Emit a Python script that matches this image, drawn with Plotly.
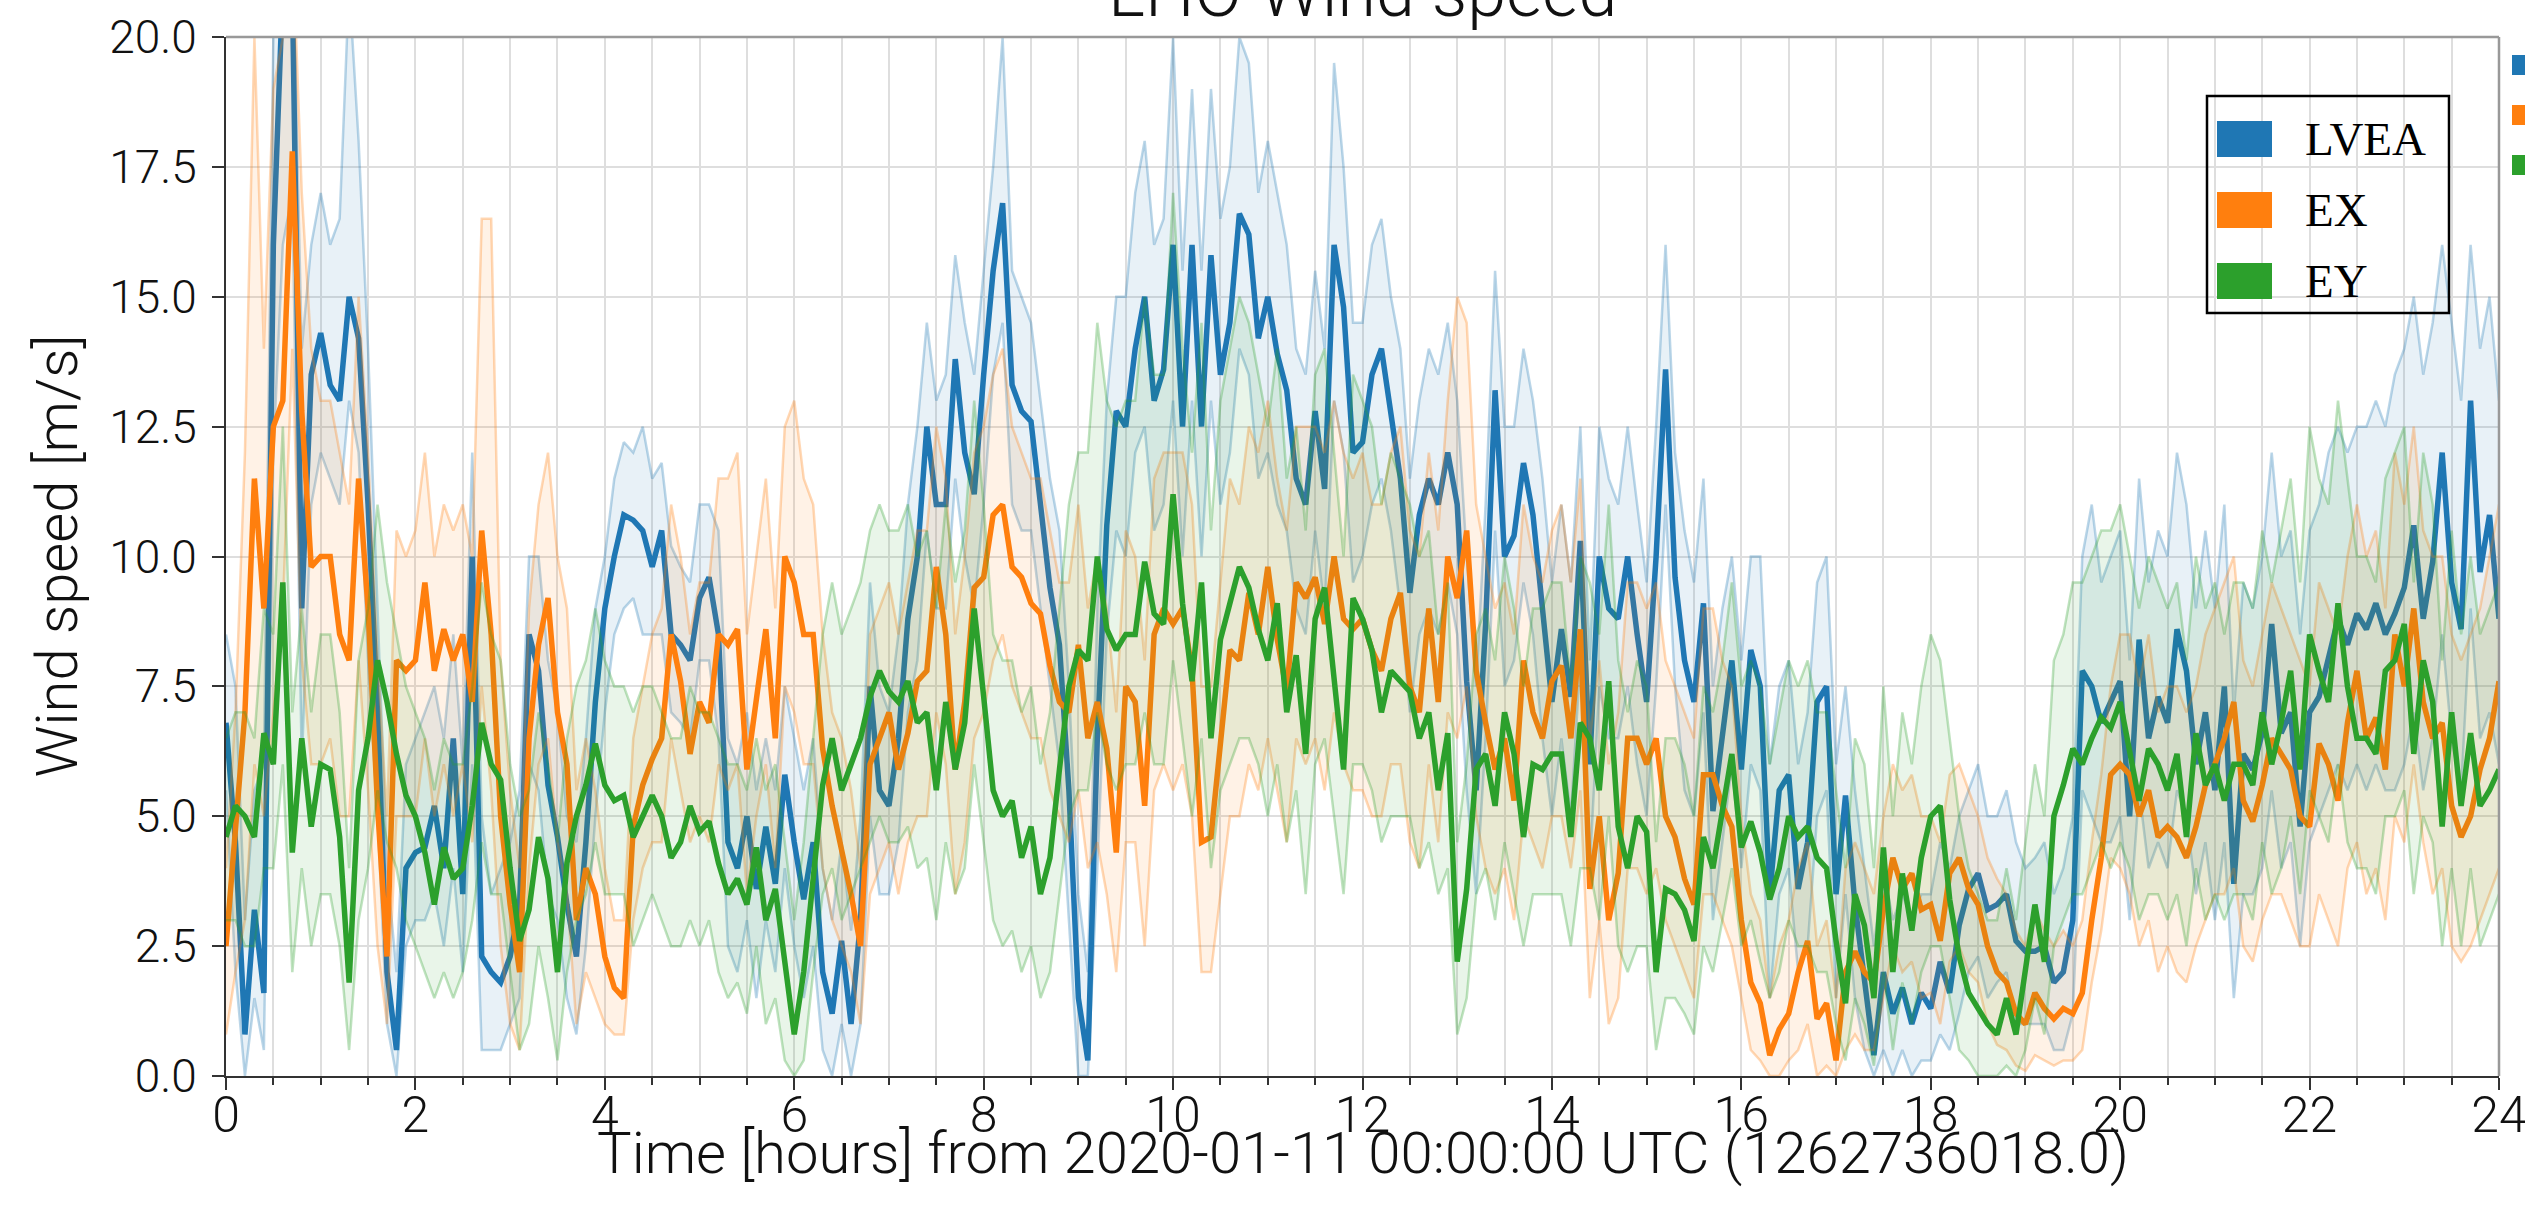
import numpy as np
import plotly.graph_objects as go

# ---------------- data (0.1 h sampling) ----------------
hours = np.round(np.arange(0, 24.0001, 0.1), 1)

lvea_mean = [
    6.8, 4.5, 0.8, 3.2, 1.6, 16.0, 21.0, 21.0, 9.0, 13.5,
    14.3, 13.3, 13.0, 15.0, 14.2, 11.0, 7.0, 2.0, 0.5, 4.0,
    4.3, 4.4, 5.2, 4.0, 6.5, 3.5, 10.0, 2.3, 2.0, 1.8,
    2.3, 3.3, 8.5, 7.8, 5.6, 4.6, 3.3, 2.3, 4.5, 7.2,
    9.0, 10.0, 10.8, 10.7, 10.5, 9.8, 10.5, 8.5, 8.3, 8.0,
    9.2, 9.6, 8.5, 4.5, 4.0, 5.0, 3.6, 4.8, 3.7, 5.8,
    4.5, 3.4, 4.5, 2.0, 1.2, 2.6, 1.0, 3.0, 7.5, 5.5,
    5.2, 6.5, 8.8, 10.0, 12.5, 11.0, 11.0, 13.8, 12.0, 11.2,
    13.5, 15.5, 16.8, 13.3, 12.8, 12.6, 11.0, 9.4, 8.3, 5.5,
    1.5, 0.3, 6.5, 10.6, 12.8, 12.5, 14.0, 15.0, 13.0, 13.6,
    16.0, 12.5, 16.0, 12.5, 15.8, 13.5, 14.5, 16.6, 16.2, 14.2,
    15.0, 13.9, 13.2, 11.5, 11.0, 12.8, 11.3, 16.0, 14.8, 12.0,
    12.2, 13.5, 14.0, 12.8, 11.5, 9.3, 10.8, 11.5, 11.0, 12.0,
    11.0, 7.6, 5.5, 8.7, 13.2, 10.0, 10.4, 11.8, 10.8, 9.0,
    7.2, 8.6, 7.3, 10.3, 6.0, 10.0, 9.0, 8.8, 10.0, 8.5,
    7.2, 10.0, 13.6, 9.6, 8.0, 7.2, 9.1, 5.1, 6.6, 8.0,
    5.9, 8.2, 7.5, 3.5, 5.5, 5.8, 3.6, 4.5, 7.2, 7.5,
    3.5, 5.4, 3.3, 1.8, 0.4, 2.0, 1.2, 1.7, 1.0, 1.6,
    1.3, 2.2, 1.6, 2.9, 3.6, 3.9, 3.2, 3.3, 3.5, 2.6,
    2.4, 2.4, 2.5, 1.8, 2.0, 3.0, 7.8, 7.5, 6.8, 7.2,
    7.6, 5.0, 8.4, 6.5, 7.3, 6.8, 8.6, 7.8, 6.0, 7.0,
    5.5, 7.5, 3.7, 6.2, 5.9, 6.6, 8.7, 6.6, 7.0, 4.8,
    7.0, 7.3, 8.0, 8.8, 8.3, 8.9, 8.6, 9.1, 8.5, 8.9,
    9.4, 10.6, 8.8, 9.9, 12.0, 9.5, 8.6, 13.0, 9.7, 10.8,
    8.8,
]
lvea_max = [
    8.5, 7.5, 3.0, 5.5, 6.0, 20.0, 22.0, 22.0, 14.0, 16.0,
    17.0, 16.0, 16.5, 21.0, 18.0, 14.0, 9.0, 4.0, 2.0, 6.0,
    6.5, 7.0, 7.5, 6.5, 8.5, 6.0, 12.0, 5.0, 3.5, 4.0,
    4.5, 5.5, 10.0, 10.0, 8.0, 7.0, 5.0, 4.5, 6.5, 9.0,
    10.0, 11.5, 12.2, 12.0, 12.5, 11.5, 11.8, 10.2, 9.8, 9.5,
    11.0, 11.0, 10.5, 6.5, 6.0, 7.0, 5.5, 6.5, 5.5, 7.5,
    6.5, 5.5, 6.5, 4.0, 3.0, 4.5, 2.8, 5.0, 9.5, 7.5,
    7.0, 8.5, 11.0, 12.5, 14.5, 13.0, 13.5, 15.8, 14.5, 13.5,
    15.5, 17.5, 20.0, 15.5, 15.0, 14.5, 13.0, 11.5, 10.5, 7.5,
    3.5, 2.0, 9.0, 13.0, 15.0, 15.0, 17.0, 18.0, 16.0, 16.5,
    20.0, 15.5, 19.0, 15.5, 19.0, 16.5, 17.5, 20.0, 19.5, 17.0,
    18.0, 17.0, 16.0, 14.0, 13.5, 15.5, 14.0, 19.5, 17.5, 14.5,
    14.5, 16.0, 16.5, 15.0, 14.0, 11.5, 13.0, 14.0, 13.5, 14.5,
    13.0, 10.0, 7.5, 11.0, 15.5, 12.5, 12.5, 14.0, 13.0, 11.5,
    9.5, 11.0, 9.5, 12.5, 8.0, 12.5, 11.5, 11.0, 12.5, 11.0,
    9.5, 12.5, 16.0, 12.0, 10.5, 9.5, 11.5, 7.5, 9.0, 10.0,
    8.0, 10.0, 10.0, 6.0, 7.5, 8.0, 6.0, 7.0, 9.5, 10.0,
    6.0, 7.5, 5.5, 4.0, 2.5, 4.0, 3.0, 3.5, 3.0, 3.5,
    3.5, 4.5, 4.0, 5.0, 5.5, 6.0, 5.0, 5.0, 5.5, 4.5,
    4.0, 4.2, 4.5, 3.5, 4.0, 5.0, 10.0, 11.0, 9.5, 10.0,
    10.5, 8.0, 11.5, 9.5, 10.5, 10.0, 12.0, 11.0, 9.0, 10.5,
    9.0, 11.0, 7.0, 9.5, 9.0, 10.0, 12.0, 10.0, 10.5, 8.5,
    10.5, 11.0, 12.0, 12.5, 12.0, 12.5, 12.5, 13.0, 12.5, 13.5,
    14.0, 15.0, 13.5, 14.5, 16.0, 14.5, 13.0, 16.0, 14.0, 15.0,
    13.0,
]
lvea_min = [
    5.5, 2.0, 0.0, 1.5, 0.5, 12.0, 16.0, 17.0, 6.0, 11.0,
    12.0, 11.5, 11.0, 13.0, 12.0, 8.0, 5.0, 1.0, 0.0, 2.5,
    3.0, 3.0, 3.5, 2.5, 4.0, 2.0, 6.0, 0.5, 0.5, 0.5,
    1.0, 1.5, 6.0, 5.5, 3.5, 3.0, 1.5, 0.8, 2.5, 5.0,
    7.0, 8.5, 9.0, 9.2, 8.5, 8.5, 8.5, 7.0, 6.8, 6.5,
    8.0, 8.0, 6.5, 2.5, 2.0, 3.0, 1.5, 3.0, 2.0, 4.0,
    2.5, 1.5, 2.5, 0.5, 0.0, 1.0, 0.0, 1.0, 5.0, 3.5,
    3.5, 4.5, 7.0, 8.0, 10.5, 9.0, 9.0, 11.5, 10.0, 9.0,
    11.0, 13.5, 14.5, 11.0, 10.5, 10.5, 9.0, 7.5, 6.0, 3.0,
    0.0, 0.0, 4.0, 8.5, 10.5, 10.0, 12.0, 12.5, 10.5, 11.0,
    13.0, 10.0, 13.0, 10.0, 13.0, 11.0, 12.0, 14.0, 13.5, 11.5,
    12.0, 11.0, 10.5, 9.0, 8.5, 10.5, 9.0, 13.0, 12.0, 9.5,
    10.0, 11.0, 11.5, 10.5, 9.0, 7.0, 8.5, 9.0, 8.5, 9.5,
    8.5, 5.5, 3.5, 6.5, 10.5, 7.5, 8.0, 9.5, 8.5, 6.5,
    5.0, 6.5, 5.0, 8.0, 4.0, 7.5, 6.5, 6.5, 7.5, 6.0,
    5.0, 7.5, 11.0, 7.5, 5.5, 5.0, 7.0, 3.0, 4.5, 6.0,
    4.0, 6.0, 5.5, 1.5, 3.5, 4.0, 2.0, 2.5, 5.0, 5.5,
    1.5, 3.5, 1.5, 0.5, 0.0, 0.5, 0.0, 0.5, 0.0, 0.3,
    0.3, 0.8, 0.5, 1.2, 2.0, 2.3, 1.5, 1.8, 2.0, 1.0,
    1.0, 1.0, 1.0, 0.5, 0.5, 1.2, 5.5, 5.0, 4.5, 4.5,
    5.0, 3.0, 5.5, 4.0, 4.5, 4.0, 5.5, 5.0, 3.5, 4.5,
    3.0, 4.5, 1.5, 3.5, 3.5, 4.0, 5.5, 4.0, 4.5, 2.5,
    4.5, 5.0, 5.5, 6.0, 5.5, 6.0, 5.5, 6.0, 5.5, 5.5,
    6.0, 7.0, 5.5, 6.5, 8.5, 6.5, 5.5, 9.0, 6.5, 7.0,
    6.0,
]

ex_mean = [
    2.5, 4.6, 7.0, 11.5, 9.0, 12.5, 13.0, 17.8, 12.8, 9.8,
    10.0, 10.0, 8.5, 8.0, 11.5, 9.0, 5.2, 2.3, 8.0, 7.8,
    8.0, 9.5, 7.8, 8.6, 8.0, 8.5, 7.2, 10.5, 8.5, 5.0,
    3.3, 2.0, 6.5, 8.3, 9.2, 7.0, 6.0, 3.0, 4.0, 3.5,
    2.3, 1.7, 1.5, 4.8, 5.6, 6.1, 6.5, 8.5, 7.6, 6.2,
    7.2, 6.8, 8.5, 8.3, 8.6, 5.9, 7.2, 8.6, 6.5, 10.0,
    9.5, 8.5, 8.5, 6.3, 5.2, 4.4, 3.5, 2.5, 6.0, 6.5,
    7.0, 5.9, 6.6, 7.6, 7.8, 9.8, 8.5, 5.9, 7.2, 9.4,
    9.6, 10.8, 11.0, 9.8, 9.6, 9.1, 8.9, 7.9, 7.2, 7.0,
    8.3, 6.5, 7.2, 6.3, 4.3, 7.5, 7.2, 5.2, 8.5, 9.0,
    8.7, 9.0, 7.8, 4.5, 4.6, 6.4, 8.2, 8.0, 9.3, 8.5,
    9.8, 8.4, 7.4, 9.5, 9.2, 9.6, 8.7, 10.0, 8.8, 8.6,
    8.8, 8.2, 7.8, 8.8, 9.3, 7.5, 7.0, 9.0, 7.2, 10.0,
    9.2, 10.5, 7.8, 6.8, 5.9, 6.5, 5.3, 8.0, 7.0, 6.5,
    7.6, 7.9, 6.5, 8.6, 3.6, 5.0, 3.0, 3.9, 6.5, 6.5,
    6.0, 6.5, 5.0, 4.6, 3.8, 3.3, 5.8, 5.8, 5.2, 4.8,
    3.0, 1.8, 1.4, 0.4, 0.9, 1.2, 2.0, 2.6, 1.1, 1.4,
    0.3, 2.0, 2.4, 2.0, 1.8, 3.2, 4.2, 3.6, 3.9, 3.2,
    3.3, 2.6, 3.9, 4.2, 3.6, 3.3, 2.5, 2.0, 1.8, 1.2,
    1.0, 1.6, 1.3, 1.1, 1.3, 1.2, 1.6, 3.0, 4.2, 5.8,
    6.0, 5.8, 5.0, 5.5, 4.6, 4.8, 4.6, 4.2, 4.8, 5.6,
    6.0, 6.5, 7.2, 5.3, 4.9, 5.6, 6.5, 6.2, 5.9, 5.0,
    4.8, 6.4, 6.0, 5.3, 6.8, 7.8, 6.5, 6.9, 5.9, 8.5,
    7.5, 9.0, 7.2, 6.5, 6.8, 5.2, 4.6, 5.0, 5.9, 6.5,
    7.6,
]
ex_max = [
    4.0, 7.0, 12.0, 20.0, 14.0, 19.0, 20.0, 22.0, 17.0, 14.0,
    13.0, 13.0, 12.0, 11.0, 15.0, 12.0, 8.0, 5.0, 10.5, 10.0,
    10.5, 12.0, 10.0, 11.0, 10.5, 11.0, 10.0, 16.5, 16.5, 8.0,
    5.5, 4.0, 9.0, 11.0, 12.0, 10.0, 9.0, 5.5, 6.5, 5.5,
    4.0, 3.0, 3.0, 6.5, 7.5, 8.5, 9.0, 11.0, 10.0, 8.5,
    9.5, 9.5, 11.5, 11.5, 12.0, 8.5, 10.0, 11.5, 9.0, 12.5,
    13.0, 11.5, 11.0, 8.5, 7.0, 6.5, 5.5, 4.0, 8.5, 9.0,
    9.5, 8.5, 9.5, 10.5, 10.5, 12.5, 11.5, 8.5, 10.0, 12.0,
    12.5, 13.5, 14.0, 12.5, 12.0, 11.5, 11.5, 10.5, 9.5, 9.5,
    11.0, 9.0, 10.0, 9.0, 7.0, 10.5, 10.0, 8.0, 11.5, 12.0,
    12.0, 12.0, 11.0, 7.5, 7.5, 9.5, 11.5, 11.0, 12.5, 12.0,
    13.0, 11.5, 10.5, 12.5, 12.5, 12.5, 12.0, 13.0, 12.0, 11.5,
    12.0, 11.0, 11.0, 12.0, 12.5, 10.5, 10.0, 12.0, 10.5, 13.0,
    15.0, 14.5, 11.0, 10.0, 9.0, 9.5, 8.5, 11.0, 10.0, 9.5,
    10.5, 11.0, 9.5, 11.5, 6.5, 8.0, 6.0, 7.0, 9.5, 9.5,
    9.0, 9.5, 8.0, 7.5, 7.0, 6.5, 9.0, 9.0, 8.0, 7.5,
    5.0, 3.5, 3.0, 1.5, 2.5, 3.0, 4.0, 4.5, 2.5, 3.0,
    1.5, 4.0, 4.5, 4.0, 3.5, 5.0, 6.0, 5.5, 5.8, 5.0,
    5.0, 4.5, 5.8, 6.0, 5.5, 5.0, 4.2, 3.8, 3.5, 2.8,
    2.5, 3.2, 2.8, 2.5, 2.8, 2.5, 3.0, 4.5, 5.8, 7.5,
    8.5, 8.5, 7.5, 8.5, 7.0, 7.5, 7.5, 7.0, 7.5, 8.5,
    9.0, 9.5, 10.0, 8.0, 7.5, 8.5, 9.5, 9.0, 8.5, 8.0,
    7.5, 9.5, 9.0, 8.5, 10.0, 11.0, 10.0, 10.5, 9.0, 12.0,
    11.0, 12.5, 10.5, 10.0, 10.0, 8.5, 8.0, 8.5, 9.0, 10.0,
    11.0,
]
ex_min = [
    0.8, 2.0, 3.0, 6.0, 5.0, 7.0, 9.0, 14.0, 8.0, 6.0,
    6.0, 6.5, 5.0, 5.0, 8.0, 5.5, 2.5, 1.0, 5.0, 5.0,
    5.0, 6.5, 5.0, 6.0, 5.0, 6.0, 4.5, 7.5, 5.5, 2.5,
    1.0, 0.5, 4.0, 6.0, 6.5, 4.5, 3.5, 1.0, 2.0, 1.5,
    1.0, 0.8, 0.8, 3.0, 4.0, 4.5, 4.5, 6.5, 5.5, 4.5,
    5.0, 4.5, 6.0, 5.5, 6.0, 3.5, 5.0, 6.0, 4.0, 7.5,
    7.0, 6.0, 6.0, 4.0, 3.0, 2.5, 2.0, 1.0, 3.5, 4.0,
    4.5, 3.5, 4.5, 5.0, 5.0, 7.0, 6.0, 3.5, 4.5, 6.5,
    7.0, 8.0, 8.5, 7.5, 7.0, 6.5, 6.5, 5.5, 5.0, 4.5,
    5.5, 4.0, 4.5, 3.5, 2.0, 4.5, 4.5, 2.5, 5.5, 6.0,
    5.5, 6.0, 5.0, 2.0, 2.0, 3.5, 5.0, 5.0, 6.0, 5.5,
    6.5, 5.5, 4.5, 6.5, 6.0, 6.5, 5.5, 7.0, 6.0, 5.5,
    5.5, 5.0, 5.0, 6.0, 6.0, 4.5, 4.0, 6.0, 4.5, 7.0,
    6.5, 7.5, 5.0, 4.0, 3.5, 4.0, 3.0, 5.0, 4.5, 4.0,
    5.0, 5.0, 4.0, 5.5, 1.5, 3.0, 1.0, 1.5, 4.0, 4.0,
    3.5, 4.0, 3.0, 2.5, 2.0, 1.5, 3.5, 3.5, 3.0, 2.5,
    1.5, 0.5, 0.3, 0.0, 0.0, 0.3, 0.5, 1.0, 0.0, 0.2,
    0.0, 0.5, 0.8, 0.5, 0.5, 1.5, 2.5, 2.0, 2.2, 1.5,
    1.6, 1.0, 2.2, 2.5, 2.0, 1.8, 1.0, 0.6, 0.5, 0.2,
    0.1, 0.4, 0.3, 0.2, 0.3, 0.3, 0.5, 1.8, 2.8, 4.2,
    4.0, 3.5, 2.5, 3.0, 2.0, 2.5, 2.0, 1.8, 2.5, 3.0,
    3.5, 3.5, 4.0, 2.5, 2.2, 3.0, 3.5, 3.5, 3.0, 2.5,
    2.5, 3.5, 3.0, 2.5, 4.0, 4.5, 3.5, 4.0, 3.0, 5.0,
    4.5, 6.0, 4.5, 3.5, 4.0, 2.5, 2.2, 2.5, 3.0, 3.5,
    4.0,
]

ey_mean = [
    4.6, 5.2, 5.0, 4.6, 6.6, 6.0, 9.5, 4.3, 6.5, 4.8,
    6.0, 5.9, 4.6, 1.8, 5.5, 6.5, 8.0, 7.2, 6.2, 5.4,
    5.0, 4.3, 3.3, 4.4, 3.8, 4.0, 5.2, 6.8, 6.0, 5.7,
    4.0, 2.6, 3.2, 4.6, 3.8, 2.0, 4.1, 5.0, 5.6, 6.4,
    5.6, 5.3, 5.4, 4.6, 5.0, 5.4, 5.0, 4.2, 4.5, 5.2,
    4.7, 4.9, 4.1, 3.5, 3.8, 3.3, 4.4, 3.0, 3.6, 2.1,
    0.8, 2.0, 3.9, 5.6, 6.5, 5.5, 6.0, 6.5, 7.3, 7.8,
    7.4, 7.2, 7.6, 6.8, 7.0, 5.5, 7.2, 5.9, 6.8, 9.0,
    7.3, 5.5, 5.0, 5.3, 4.2, 4.8, 3.5, 4.2, 5.9, 7.5,
    8.2, 8.0, 10.0, 8.6, 8.2, 8.5, 8.5, 9.9, 8.9, 8.7,
    11.2, 9.1, 7.6, 9.5, 6.5, 8.4, 9.1, 9.8, 9.4, 8.6,
    8.0, 9.1, 7.0, 8.1, 6.2, 8.8, 9.4, 7.6, 5.9, 9.2,
    8.8, 8.2, 7.0, 7.8, 7.6, 7.4, 6.5, 7.0, 5.5, 6.6,
    2.2, 3.6, 5.9, 6.2, 5.2, 7.0, 6.2, 4.6, 6.0, 5.9,
    6.2, 6.2, 4.6, 6.8, 6.5, 5.5, 7.6, 4.8, 4.0, 5.0,
    4.7, 2.0, 3.6, 3.5, 3.2, 2.6, 4.6, 4.0, 5.1, 6.2,
    4.4, 4.9, 4.3, 3.4, 4.0, 5.0, 4.6, 4.8, 4.2, 4.0,
    2.6, 1.4, 3.5, 2.9, 1.5, 4.4, 2.0, 3.9, 2.8, 4.2,
    5.0, 5.2, 3.4, 2.3, 1.6, 1.3, 1.0, 0.8, 1.5, 0.8,
    2.0, 3.3, 2.2, 5.0, 5.6, 6.3, 6.0, 6.5, 6.9, 6.7,
    7.2, 6.3, 5.3, 6.3, 6.0, 5.5, 6.2, 4.6, 6.6, 5.6,
    6.0, 5.3, 6.0, 6.0, 5.6, 7.0, 6.0, 6.8, 7.8, 5.9,
    8.5, 7.8, 7.2, 9.1, 7.5, 6.5, 6.5, 6.2, 7.8, 8.0,
    8.7, 6.2, 8.0, 7.2, 4.8, 7.0, 5.2, 6.6, 5.2, 5.5,
    5.9,
]
ey_max = [
    6.5, 7.0, 7.0, 6.5, 9.0, 8.5, 12.5, 7.0, 9.0, 7.0,
    8.5, 8.5, 7.0, 4.0, 8.0, 9.0, 11.0, 9.5, 8.5, 7.5,
    7.0, 6.5, 5.5, 6.5, 6.0, 6.0, 7.5, 9.5, 8.5, 8.0,
    6.0, 5.0, 5.5, 7.0, 6.0, 4.5, 6.5, 7.5, 8.0, 9.0,
    8.0, 7.5, 7.5, 7.0, 7.5, 7.5, 7.0, 6.5, 6.5, 7.5,
    7.0, 7.0, 6.5, 6.0, 6.0, 5.5, 6.5, 5.5, 6.0, 4.5,
    3.0, 4.5, 6.5, 8.5, 9.5, 8.5, 9.0, 9.5, 10.5, 11.0,
    10.5, 10.5, 11.0, 10.0, 10.5, 9.0, 11.0, 9.5, 10.5, 13.0,
    11.0, 8.5, 8.0, 8.0, 7.0, 7.5, 6.0, 7.0, 9.0, 11.0,
    12.0, 12.0, 14.5, 13.0, 12.5, 13.0, 13.0, 15.0, 13.5, 13.5,
    17.0, 14.0, 12.0, 14.5, 10.5, 13.0, 14.0, 15.0, 14.5, 13.5,
    12.5, 14.0, 11.5, 12.5, 10.5, 13.5, 14.0, 12.0, 10.0, 13.5,
    13.0, 12.5, 11.0, 12.0, 11.5, 11.0, 10.0, 10.5, 8.5, 9.5,
    4.5, 6.0, 8.5, 9.0, 8.0, 10.0, 9.0, 7.5, 9.0, 9.0,
    9.5, 9.5, 7.5, 10.0, 9.5, 8.5, 11.0, 8.0, 7.0, 8.0,
    7.5, 4.5, 6.5, 6.5, 6.0, 5.0, 7.5, 7.0, 8.0, 9.5,
    7.5, 8.0, 7.5, 6.0, 7.0, 8.0, 7.5, 8.0, 7.0, 7.0,
    5.5, 4.0, 6.5, 6.0, 4.0, 7.5, 5.0, 7.0, 6.0, 7.5,
    8.5, 8.0, 6.5, 5.0, 4.0, 3.5, 3.0, 3.0, 4.0, 3.0,
    4.5, 6.0, 5.0, 8.0, 8.5, 9.5, 9.5, 10.0, 10.5, 10.5,
    11.0, 10.0, 9.0, 10.0, 9.5, 9.0, 9.5, 8.0, 10.0, 9.0,
    9.5, 8.5, 9.5, 9.5, 9.0, 10.5, 9.5, 10.5, 11.5, 9.5,
    12.5, 11.5, 11.0, 13.0, 11.5, 10.0, 10.0, 9.5, 11.5, 12.0,
    12.5, 9.5, 12.0, 11.0, 8.0, 10.5, 8.5, 10.0, 8.5, 9.0,
    9.5,
]
ey_min = [
    3.0, 3.0, 2.5, 2.5, 4.0, 4.0, 6.0, 2.0, 4.0, 2.5,
    3.5, 3.5, 2.5, 0.5, 3.0, 4.0, 5.5, 4.5, 4.0, 3.0,
    2.5, 2.0, 1.5, 2.0, 1.5, 2.0, 3.0, 4.5, 3.5, 3.5,
    2.0, 0.5, 1.0, 2.5, 1.5, 0.3, 2.0, 3.0, 3.5, 4.5,
    3.5, 3.5, 3.5, 2.5, 3.0, 3.5, 3.0, 2.5, 2.5, 3.0,
    2.5, 3.0, 2.0, 1.5, 1.8, 1.2, 2.5, 1.0, 1.5, 0.3,
    0.0, 0.3, 2.0, 3.5, 4.0, 3.0, 3.5, 4.0, 4.5, 5.0,
    4.5, 4.5, 4.8, 4.0, 4.2, 3.0, 4.5, 3.5, 4.0, 6.0,
    4.5, 3.0, 2.5, 2.8, 2.0, 2.5, 1.5, 2.0, 3.5, 5.0,
    5.5, 5.5, 7.0, 6.0, 5.5, 6.0, 6.0, 7.0, 6.0, 6.0,
    8.0, 6.5, 5.0, 6.5, 4.0, 5.5, 6.0, 6.5, 6.5, 6.0,
    5.0, 6.0, 4.5, 5.5, 3.5, 6.0, 6.5, 5.0, 3.5, 6.0,
    6.0, 5.5, 4.5, 5.0, 5.0, 5.0, 4.0, 4.5, 3.5, 4.0,
    0.8, 1.5, 3.5, 4.0, 3.0, 4.5, 3.5, 2.5, 3.5, 3.5,
    3.5, 3.5, 2.5, 4.0, 4.0, 3.0, 5.0, 2.5, 2.0, 2.5,
    2.5, 0.5, 1.5, 1.5, 1.2, 0.8, 2.5, 2.0, 3.0, 4.0,
    2.5, 3.0, 2.2, 1.5, 2.0, 3.0, 2.5, 2.5, 2.0, 2.0,
    1.0, 0.3, 1.5, 1.0, 0.2, 2.0, 0.5, 1.8, 1.0, 2.0,
    2.5, 2.5, 1.5, 0.5, 0.3, 0.0, 0.0, 0.0, 0.2, 0.0,
    0.5, 1.5, 0.8, 2.5, 3.0, 3.5, 3.5, 4.0, 4.5, 4.0,
    4.5, 4.0, 3.0, 3.5, 3.5, 3.0, 3.5, 2.5, 4.0, 3.0,
    3.5, 3.0, 3.5, 3.5, 3.0, 4.5, 3.5, 4.0, 5.0, 3.5,
    5.5, 5.0, 4.5, 6.0, 4.5, 4.0, 4.0, 3.5, 5.0, 5.0,
    5.5, 3.5, 5.0, 4.5, 2.5, 4.0, 2.5, 4.0, 2.5, 3.0,
    3.5,
]

series_names = ["LVEA", "EX", "EY"]
series_colors = ["#1f77b4", "#ff7f0e", "#2ca02c"]
series_data = [
    (lvea_mean, lvea_min, lvea_max),
    (ex_mean, ex_min, ex_max),
    (ey_mean, ey_min, ey_max),
]

title_text = "LHO Wind speed"
xlabel_text = "Time [hours] from 2020-01-11 00:00:00 UTC (1262736018.0)"
ylabel_text = "Wind speed [m/s]"

# ---------------- layout geometry (pixels) ----------------
W, H = 2525, 1225
PL, PR, PT, PB = 226, 2499, 37, 1076


def fx(p):
    return (p - PL) / (PR - PL)


def fy(p):
    return (PB - p) / (PB - PT)


def rgba(hexc, a):
    h = hexc.lstrip("#")
    r, g, b = int(h[0:2], 16), int(h[2:4], 16), int(h[4:6], 16)
    return f"rgba({r},{g},{b},{a})"


fig = go.Figure()
for name, col, (mean, lo, hi) in zip(series_names, series_colors, series_data):
    fig.add_trace(go.Scatter(x=hours[:len(hi)], y=hi, mode="lines",
                             line=dict(color=rgba(col, 0.3), width=2.5),
                             showlegend=False, hoverinfo="skip"))
    fig.add_trace(go.Scatter(x=hours[:len(lo)], y=lo, mode="lines",
                             line=dict(color=rgba(col, 0.3), width=2.5),
                             fill="tonexty", fillcolor=rgba(col, 0.1),
                             showlegend=False, hoverinfo="skip"))
    fig.add_trace(go.Scatter(x=hours[:len(mean)], y=mean, mode="lines",
                             line=dict(color=col, width=5.5), name=name,
                             showlegend=False))

FONT = "Roboto"
grid_col = "#dedede"

fig.update_layout(
    width=W, height=H,
    margin=dict(l=PL, r=W - PR, t=PT, b=H - PB, pad=0, autoexpand=False),
    paper_bgcolor="white", plot_bgcolor="white",
    showlegend=False,
    font=dict(family=FONT, size=46, color="#111111", weight=300),
)
fig.update_xaxes(
    range=[0, 24], tickmode="linear", tick0=0, dtick=2, automargin=False,
    ticks="outside", ticklen=12, tickwidth=2, tickcolor="#333333",
    showline=True, linecolor="#333333", linewidth=2,
    showgrid=True, gridcolor=grid_col, gridwidth=1.5, zeroline=False,
    tickfont=dict(family=FONT, size=50, color="#111111", weight=300),
    ticklabelstandoff=-18, ticklabeloverflow="allow",
    minor=dict(dtick=0.5, tick0=0, ticks="outside", ticklen=7, tickwidth=1.5,
               tickcolor="#333333", showgrid=True, gridcolor=grid_col, gridwidth=1.5),
)
fig.update_yaxes(
    range=[0, 20], tickmode="linear", tick0=0, dtick=2.5, tickformat=".1f",
    automargin=False,
    ticks="outside", ticklen=12, tickwidth=2, tickcolor="#333333",
    showline=True, linecolor="#333333", linewidth=2,
    showgrid=True, gridcolor=grid_col, gridwidth=1.5, zeroline=False,
    tickfont=dict(family=FONT, size=46, color="#111111", weight=300),
    ticklabelstandoff=6,
)

shapes = [
    dict(type="line", xref="paper", yref="paper", x0=0, x1=1, y0=1, y1=1,
         line=dict(color="#999999", width=2.5), layer="above"),
    dict(type="line", xref="paper", yref="paper", x0=1, x1=1, y0=0, y1=1,
         line=dict(color="#999999", width=2.5), layer="above"),
    # legend frame
    dict(type="rect", xref="paper", yref="paper", x0=fx(2207), x1=fx(2449),
         y0=fy(313), y1=fy(96), line=dict(color="black", width=2.5),
         fillcolor="rgba(0,0,0,0)", layer="above"),
]
annotations = []
patch_centers = [139, 210, 281]
outer_centers = [65, 115, 165]
for name, col, yc, yo in zip(series_names, series_colors, patch_centers, outer_centers):
    shapes.append(dict(type="rect", xref="paper", yref="paper",
                       x0=fx(2217), x1=fx(2272), y0=fy(yc + 18), y1=fy(yc - 18),
                       fillcolor=col, line=dict(width=0), layer="above"))
    shapes.append(dict(type="rect", xref="paper", yref="paper",
                       x0=fx(2512), x1=fx(2560), y0=fy(yo + 10), y1=fy(yo - 10),
                       fillcolor=col, line=dict(width=0), layer="above"))
    annotations.append(dict(text=name, xref="paper", yref="paper",
                            x=fx(2303), y=fy(yc), xanchor="left", yanchor="middle",
                            showarrow=False,
                            font=dict(family="Liberation Serif", size=47, color="black")))

annotations.append(dict(text=title_text, xref="paper", yref="paper", x=0.5, y=1,
                        xanchor="center", yanchor="bottom", yshift=2, showarrow=False,
                        font=dict(family=FONT, size=70, color="#111111", weight=300)))
annotations.append(dict(text=xlabel_text, xref="paper", yref="paper", x=0.5, y=fy(1153),
                        xanchor="center", yanchor="middle", showarrow=False,
                        font=dict(family=FONT, size=58, color="#111111", weight=300)))
annotations.append(dict(text=ylabel_text, xref="paper", yref="paper", x=fx(56), y=0.5,
                        xanchor="center", yanchor="middle", textangle=-90, showarrow=False,
                        font=dict(family=FONT, size=58, color="#111111", weight=300)))

fig.update_layout(shapes=shapes, annotations=annotations)
fig.write_html("out.html")
